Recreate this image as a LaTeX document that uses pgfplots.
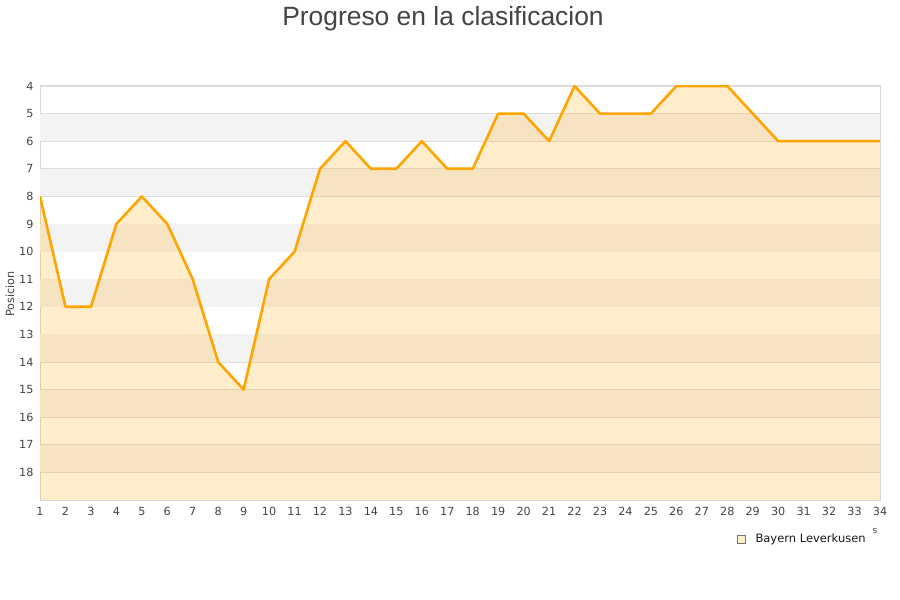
\documentclass[border=0pt]{standalone}
\usepackage{fontspec}
\setmainfont{DejaVu Sans}
\newfontfamily\titlefont{Liberation Sans}
\usepackage{pgfplots}
\pgfplotsset{compat=1.18}
\usepackage{pgfplotstable}

\definecolor{linecol}{HTML}{FFA500}
\definecolor{bandgray}{HTML}{F3F3F3}
\definecolor{gridgray}{HTML}{DEDEDE}
\definecolor{framegray}{HTML}{D8D8D8}
\definecolor{ticktext}{HTML}{444444}

\pgfplotstableread{
j pos
1 8
2 12
3 12
4 9
5 8
6 9
7 11
8 14
9 15
10 11
11 10
12 7
13 6
14 7
15 7
16 6
17 7
18 7
19 5
20 5
21 6
22 4
23 5
24 5
25 5
26 4
27 4
28 4
29 5
30 6
31 6
32 6
33 6
34 6
}\standings

\begin{document}
\begin{tikzpicture}
\begin{axis}[
    set layers,
    at={(0pt,0pt)}, anchor=south west,
    width=840pt, height=414pt, scale only axis,
    xmin=1, xmax=34, ymin=4, ymax=19,
    y dir=reverse,
    xtick={1,...,34}, ytick={4,...,18},
    major tick length=0pt,
    axis line style={framegray, line width=1pt},
    ymajorgrids, grid style={gridgray, line width=0.8pt},
    tick label style={font=\fontsize{11.2}{13}\selectfont, text=ticktext},
    /pgf/number format/assume math mode=true,
    xticklabel style={yshift=-4pt},
    yticklabel style={xshift=-3pt},
    clip=true,
]
\pgfplotsinvokeforeach{5,7,...,17}{
  \fill[bandgray, on layer=axis background] (axis cs:1,#1) rectangle (axis cs:34,#1+1);
}
\addplot[fill=linecol, fill opacity=0.2, draw=none, forget plot] table[x=j, y=pos] {\standings}
  -- (axis cs:34,19) -- (axis cs:1,19) -- cycle;
\addplot[linecol, line width=2.6pt, line join=round, mark=none] table[x=j, y=pos] {\standings};
\end{axis}
\node[anchor=base, font=\titlefont\fontsize{26.4}{30}\selectfont, text=ticktext] at (403pt,474pt) {Progreso en la clasificacion};
\node[rotate=90, font=\fontsize{11.2}{13}\selectfont, text=ticktext] at (-30pt,206pt) {Posicion};
\draw[fill=linecol!20, draw=black!55, line width=0.6pt] (697pt,-43pt) rectangle (705pt,-35pt);
\node[anchor=west, font=\fontsize{11.5}{13}\selectfont, text=black!90] at (712pt,-39pt) {Bayern Leverkusen};
\node[font=\fontsize{9}{10}\selectfont, text=ticktext] at (835pt,-31pt) {s};
\pgfresetboundingbox
\path[use as bounding box] (-40pt,-100pt) rectangle (860pt,500pt);
\end{tikzpicture}
\end{document}
